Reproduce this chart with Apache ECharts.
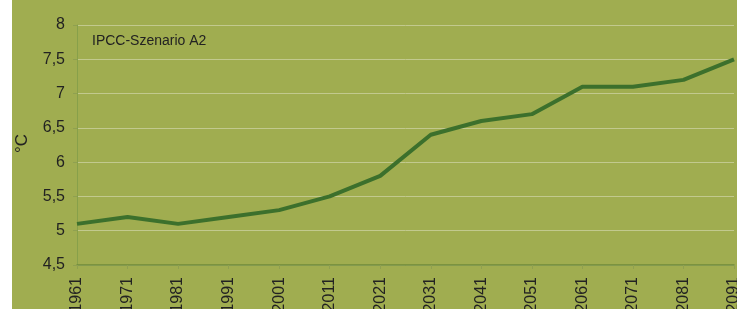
<!DOCTYPE html>
<html>
<head>
<meta charset="utf-8">
<script src="https://cdn.jsdelivr.net/npm/echarts@6/dist/echarts.min.js"></script>
<style>
  html, body { margin: 0; padding: 0; background: #fff; }
  #chart { position: absolute; left: 12px; top: 0; width: 725px; height: 309px; background: #a0ad50; }
</style>
</head>
<body>
<div id="chart"></div>
<script>
// years on the x axis
const years = ['1961', '1971', '1981', '1991', '2001', '2011', '2021', '2031', '2041', '2051', '2061', '2071', '2081', '2091'];
// temperature in °C
const temps = [5.1, 5.2, 5.1, 5.2, 5.3, 5.5, 5.8, 6.4, 6.6, 6.7, 7.1, 7.1, 7.2, 7.5];

const chart = echarts.init(document.getElementById('chart'));
const font = 'Liberation Sans, Arial, sans-serif';

chart.setOption({
  animation: false,
  grid: { left: 65, right: 3, top: 25, bottom: 44, outerBoundsMode: 'none', containLabel: false },
  graphic: [
    {
      type: 'text', left: 80, top: 34,
      style: { text: 'IPCC-Szenario A2', fontSize: 14, fontFamily: font, fill: '#222' }
    },
    {
      type: 'text', left: 2, top: 134, rotation: Math.PI / 2,
      style: { text: '°C', fontSize: 17, fontFamily: font, fill: '#222' }
    }
  ],
  xAxis: {
    type: 'category',
    data: years,
    boundaryGap: false,
    axisLine: { lineStyle: { color: '#6f8a3a', width: 1.5 } },
    axisTick: { show: true, length: 4, lineStyle: { color: '#8fa050' } },
    axisLabel: { rotate: 90, fontSize: 16, fontFamily: font, color: '#222', margin: 12 }
  },
  yAxis: {
    type: 'value',
    min: 4.5,
    max: 8,
    interval: 0.5,
    axisLine: { show: true, lineStyle: { color: '#87a04a' } },
    axisTick: { show: true, length: 4, lineStyle: { color: '#8fa050' } },
    splitLine: { lineStyle: { color: '#c2c98e', width: 1 } },
    axisLabel: {
      fontSize: 16, fontFamily: font, color: '#222', margin: 12,
      formatter: v => String(v).replace('.', ',')
    }
  },
  series: [{
    type: 'line',
    data: temps,
    symbol: 'none',
    lineStyle: { color: '#3c702c', width: 4 }
  }]
});
</script>
</body>
</html>
